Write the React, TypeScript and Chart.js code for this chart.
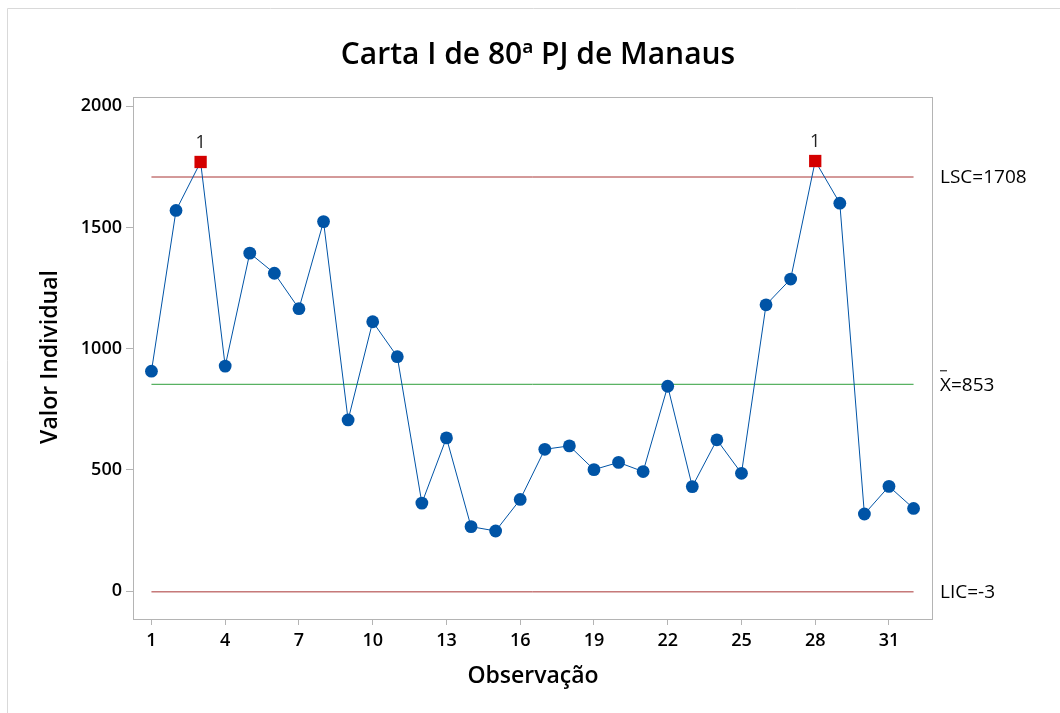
import React, { useEffect, useRef } from "react";
import { Chart, registerables } from "chart.js";

Chart.register(...registerables);

// ---- data ----
const VALUES: number[] = [
  907, 1570, 1770, 928, 1394, 1311, 1165, 1524, 706, 1111, 967, 363, 632, 266, 248, 378,
  585, 599, 501, 531, 493, 845, 431, 624, 486, 1181, 1287, 1774, 1600, 318, 432, 341,
];
const OBSERVATIONS: number[] = VALUES.map((_, i) => i + 1);
const LSC = 1708;
const MEAN = 853;
const LIC = -3;
const X_TICKS: number[] = [1, 4, 7, 10, 13, 16, 19, 22, 25, 28, 31];
const Y_TICKS: number[] = [0, 500, 1000, 1500, 2000];
const TITLE = "Carta I de 80ª PJ de Manaus";
const X_TITLE = "Observação";
const Y_TITLE = "Valor Individual";

const FONT = '"Open Sans", "Noto Sans", sans-serif';
const BLUE = "#0054A6";
const RED = "#D40000";
const LIMIT_RED = "#A83434";
const GREEN = "#2E9E3A";
const GREY = "#B4B4B4";

const isOut = (v: number) => v > LSC || v < LIC;

const overlay = {
  id: "overlay",
  afterDraw(chart: any) {
    const ctx = chart.ctx as CanvasRenderingContext2D;
    const { left, right, top, bottom } = chart.chartArea;
    const xs = chart.scales.x;
    const ys = chart.scales.y;
    ctx.save();
    // outer frame
    ctx.strokeStyle = "#D9D9D9";
    ctx.lineWidth = 1;
    ctx.beginPath();
    ctx.moveTo(7.5, 713);
    ctx.lineTo(7.5, 8.5);
    ctx.lineTo(1060, 8.5);
    ctx.stroke();
    // plot frame
    ctx.strokeStyle = GREY;
    ctx.strokeRect(Math.round(left) + 0.5, Math.round(top) + 0.5, Math.round(right - left), Math.round(bottom - top));
    // title
    ctx.fillStyle = "#000";
    ctx.textAlign = "center";
    ctx.textBaseline = "alphabetic";
    ctx.font = `600 30px ${FONT}`;
    ctx.fillText(TITLE, 538, 64);
    // x title
    ctx.font = `600 23px ${FONT}`;
    ctx.fillText(X_TITLE, 533, 683);
    // y title
    ctx.save();
    ctx.translate(50, 357);
    ctx.rotate(-Math.PI / 2);
    ctx.textBaseline = "middle";
    ctx.fillText(Y_TITLE, 0, 0);
    ctx.restore();
    // right labels
    ctx.textAlign = "left";
    ctx.textBaseline = "middle";
    ctx.font = `400 19px ${FONT}`;
    const lx = right + 8;
    ctx.fillText(`LSC=${LSC}`, lx, ys.getPixelForValue(LSC) + 1);
    const my = ys.getPixelForValue(MEAN) + 1;
    ctx.fillText(`X=${MEAN}`, lx, my);
    ctx.strokeStyle = "#000";
    ctx.lineWidth = 1;
    ctx.beginPath();
    ctx.moveTo(lx, my - 14.5);
    ctx.lineTo(lx + 7, my - 14.5);
    ctx.stroke();
    ctx.fillText(`LIC=${LIC}`, lx, ys.getPixelForValue(LIC) + 1);
    // "1" labels for out-of-control points
    ctx.textAlign = "center";
    ctx.textBaseline = "alphabetic";
    ctx.fillStyle = "#222";
    ctx.font = `400 18px ${FONT}`;
    VALUES.forEach((v, i) => {
      if (isOut(v)) {
        ctx.fillText("1", xs.getPixelForValue(OBSERVATIONS[i]), ys.getPixelForValue(v) - 14);
      }
    });
    ctx.restore();
  },
};

export default function App() {
  const ref = useRef<HTMLCanvasElement | null>(null);
  useEffect(() => {
    if (!ref.current) return;
    const first = OBSERVATIONS[0];
    const last = OBSERVATIONS[OBSERVATIONS.length - 1];
    const limitLine = (val: number, color: string) => ({
      data: [
        { x: first, y: val },
        { x: last, y: val },
      ],
      borderColor: color,
      borderWidth: 1,
      pointRadius: 0,
      order: 2,
    });
    const tickFont = { family: FONT, size: 18, weight: "600" } as any;
    const chart = new Chart(ref.current, {
      type: "line",
      data: {
        datasets: [
          {
            data: VALUES.map((v, i) => ({ x: OBSERVATIONS[i], y: v })),
            borderColor: BLUE,
            borderWidth: 1,
            pointStyle: VALUES.map((v) => (isOut(v) ? "rect" : "circle")) as any,
            pointRadius: VALUES.map((v) => (isOut(v) ? 8.7 : 6.4)),
            pointBackgroundColor: VALUES.map((v) => (isOut(v) ? RED : BLUE)),
            pointBorderColor: VALUES.map((v) => (isOut(v) ? RED : BLUE)),
            pointBorderWidth: 0,
            order: 0,
          },
          limitLine(LSC, LIMIT_RED),
          limitLine(MEAN, GREEN),
          limitLine(LIC, LIMIT_RED),
        ],
      },
      options: {
        animation: false,
        responsive: false,
        devicePixelRatio: 1,
        layout: { padding: { left: 0, top: 97, right: 128, bottom: 0 } },
        plugins: { legend: { display: false }, tooltip: { enabled: false }, title: { display: false } },
        scales: {
          x: {
            type: "linear",
            min: 0.25,
            max: 32.75,
            afterBuildTicks: (s: any) => {
              s.ticks = X_TICKS.map((v) => ({ value: v }));
            },
            afterFit: (s: any) => {
              s.height = 94;
            },
            grid: { drawOnChartArea: false, drawTicks: true, tickLength: 6, color: GREY },
            border: { display: false },
            ticks: { color: "#000", padding: 5, font: tickFont, callback: (v: any) => String(v) },
          },
          y: {
            type: "linear",
            min: -115,
            max: 2038,
            afterBuildTicks: (s: any) => {
              s.ticks = Y_TICKS.map((v) => ({ value: v }));
            },
            afterFit: (s: any) => {
              s.width = 133;
            },
            grid: { drawOnChartArea: false, drawTicks: true, tickLength: 7, color: GREY },
            border: { display: false },
            ticks: { color: "#000", padding: 4, font: tickFont, callback: (v: any) => String(v) },
          },
        },
      },
      plugins: [overlay],
    });
    return () => chart.destroy();
  }, []);
  return (
    <div style={{ position: "fixed", left: 0, top: 0, width: 1060, height: 713, background: "#fff" }}>
      <canvas ref={ref} width={1060} height={713} style={{ width: 1060, height: 713, display: "block" }} />
    </div>
  );
}
